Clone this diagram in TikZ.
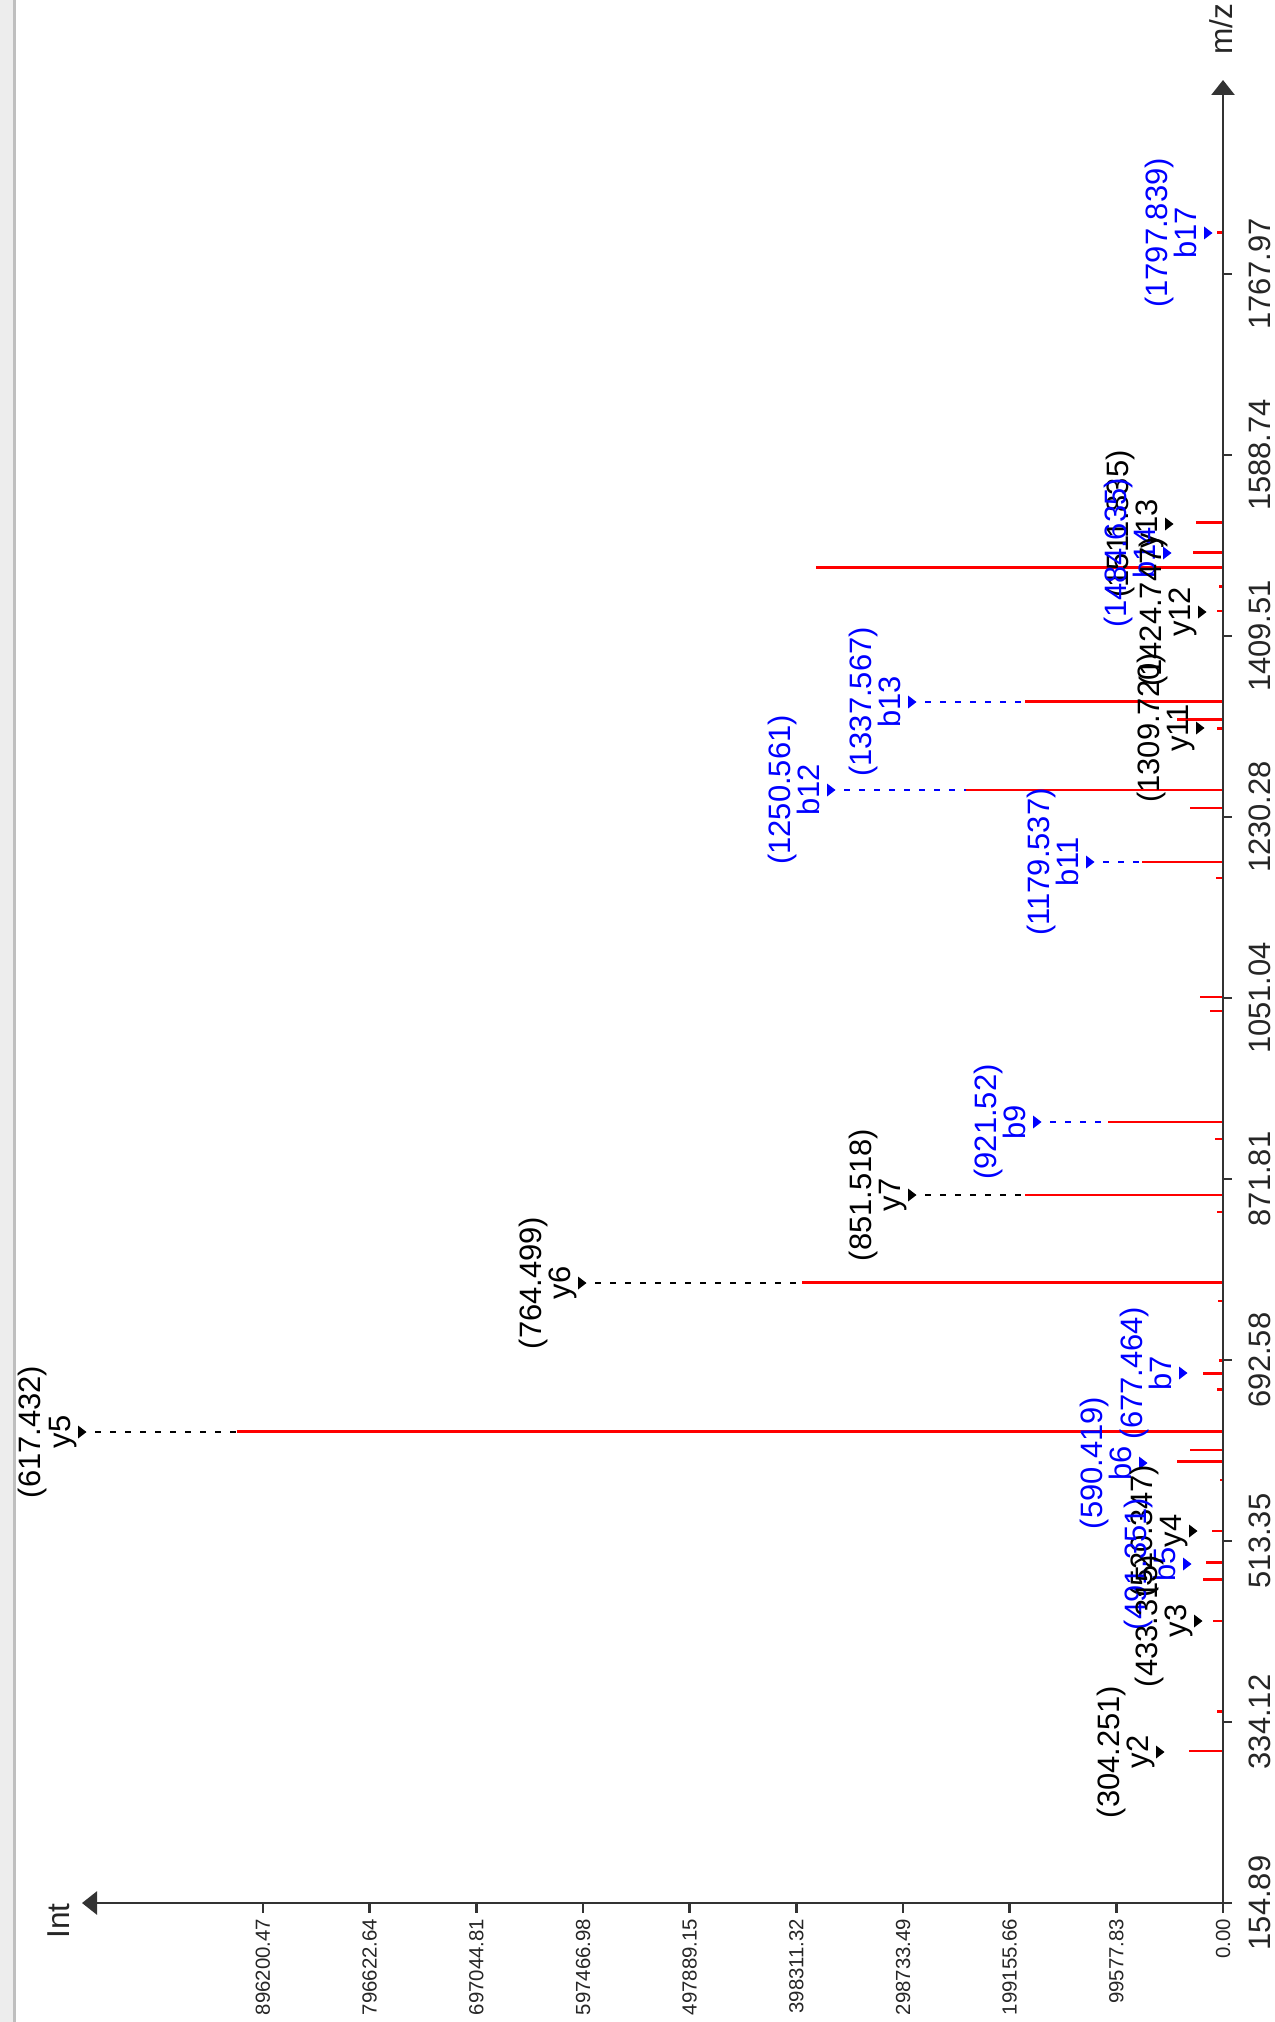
\documentclass[tikz,border=0pt]{standalone}
\usepackage{fontspec}
\setmainfont{Liberation Sans}
\usetikzlibrary{arrows.meta}
\tikzstyle{axis} = [line width=0.27mm, draw=black!80]
\tikzstyle{peak} = [line width=0.27mm, draw=red]
\tikzstyle{conn} = [line width=0.27mm, dash pattern=on 0.6mm off 0.9mm]
\tikzstyle{mzlabel} = [rotate=90, anchor=base, inner sep=0pt, text=black!85, font=\fontsize{8.8}{10}\selectfont]
\tikzstyle{intlabel} = [rotate=90, anchor=east, inner sep=0pt, text=black!85, font=\fontsize{5.8}{7}\selectfont]
\tikzstyle{ionname} = [rotate=90, anchor=base, inner sep=0pt, font=\fontsize{8.8}{10}\selectfont]
\tikzstyle{axisname} = [rotate=90, anchor=base, inner sep=0pt, text=black!85, font=\fontsize{9}{10}\selectfont]
% marker, ion name and value of one annotated peak
\newcommand{\ionmark}[5]{%
  \fill[#1] (#4-4,#5-6.5) -- (#4+4.5,#5) -- (#4-4,#5+6.5) -- cycle;
  \node (#2) [ionname, text=#1] at (#4-12,#5) {#2};
  \node (#2v) [ionname, text=#1] at (#4-41,#5) {#3};
  \coordinate (#2m) at (#4+13,#5);
}

\begin{document}
\begin{tikzpicture}[x=0.1mm, y=-0.1mm]
  \useasboundingbox (0,0) rectangle (1275,2022);
  \fill[white] (0,0) rectangle (1275,2022);
  \fill[black!7] (0,0) rectangle (13,2022);
  \draw[black!25, line width=0.25mm] (14.5,0) -- (14.5,2022);

  % peaks
  \foreach \py/\px in {232.7/1217, 522.7/1196, 552.7/1193, 567.7/816, 586.7/1219, 611/1217,
      701.7/1025, 719.5/1177, 728.3/1217, 790/966, 808/1190, 862/1142, 878/1216,
      997/1200, 1011/1210, 1122/1108, 1139/1215, 1195/1025, 1212/1217, 1282.6/802,
      1301/1218, 1360.7/1219, 1373.3/1203, 1389.3/1217, 1431.7/237, 1450/1190,
      1461.7/1177, 1480/1220, 1531/1212, 1562.7/1206, 1579.3/1203, 1621/1213,
      1711.7/1217, 1751/1189}
    \draw[peak] (\px,\py) -- (1223,\py);

  % tops of the peaks with a leader
  \coordinate (b13top) at (1025,702);
  \coordinate (b12top) at (966,790);
  \coordinate (b11top) at (1142,862);
  \coordinate (b9top) at (1108,1122);
  \coordinate (y7top) at (1025,1195);
  \coordinate (y6top) at (802,1283);
  \coordinate (y5top) at (237,1432);

  % axes
  \draw[axis, -{Triangle[length=1.5mm, width=2.3mm]}] (1223,1903) -- (82,1903);
  \draw[axis, -{Triangle[length=1.5mm, width=2.3mm]}] (1223,1903) -- (1223,80);
  \node (mzname) [axisname] at (1232,29) {m/z};
  \node (intname) [axisname] at (69,1921) {Int};

  \foreach \k/\lab in {0/154.89, 1/334.12, 2/513.35, 3/692.58, 4/871.81, 5/1051.04,
      6/1230.28, 7/1409.51, 8/1588.74, 9/1767.97} {
    \draw[axis] (1223,1903-181*\k) -- (1232,1903-181*\k);
    \node (mz\k) [mzlabel] at (1270,1903-181*\k) {\lab};
  }
  \foreach \k/\lab in {0/0.00, 1/99577.83, 2/199155.66, 3/298733.49, 4/398311.32,
      5/497889.15, 6/597466.98, 7/697044.81, 8/796622.64, 9/896200.47} {
    \draw[axis] (1223-106.67*\k,1903) -- (1223-106.67*\k,1913);
    \node (int\k) [intlabel] at (1223-106.67*\k,1918) {\lab};
  }

  % annotations
  \ionmark{blue}{b17}{(1797.839)}{1208}{233}
  \ionmark{black}{y13}{(1511.835)}{1169}{524}
  \ionmark{blue}{b14}{(1484.635)}{1167}{553}
  \ionmark{black}{y12}{(1424.747)}{1202}{612}
  \ionmark{blue}{b13}{(1337.567)}{912}{702}
  \ionmark{black}{y11}{(1309.720)}{1200}{728}
  \ionmark{blue}{b12}{(1250.561)}{831}{790}
  \ionmark{blue}{b11}{(1179.537)}{1090}{862}
  \ionmark{blue}{b9}{(921.52)}{1037}{1122}
  \ionmark{black}{y7}{(851.518)}{912}{1195}
  \ionmark{black}{y6}{(764.499)}{582}{1283}
  \ionmark{blue}{b7}{(677.464)}{1183}{1373}
  \ionmark{black}{y5}{(617.432)}{82}{1432}
  \ionmark{blue}{b6}{(590.419)}{1143}{1463}
  \ionmark{black}{y4}{(520.347)}{1193}{1531}
  \ionmark{blue}{b5}{(491.351)}{1187}{1564}
  \ionmark{black}{y3}{(433.315)}{1198}{1621}
  \ionmark{black}{y2}{(304.251)}{1160}{1752}

  \draw[conn, blue] (b13m) -- (b13top);
  \draw[conn, blue] (b12m) -- (b12top);
  \draw[conn, blue] (b11m) -- (b11top);
  \draw[conn, blue] (b9m) -- (b9top);
  \draw[conn] (y7m) -- (y7top);
  \draw[conn] (y6m) -- (y6top);
  \draw[conn] (y5m) -- (y5top);
\end{tikzpicture}
\end{document}
